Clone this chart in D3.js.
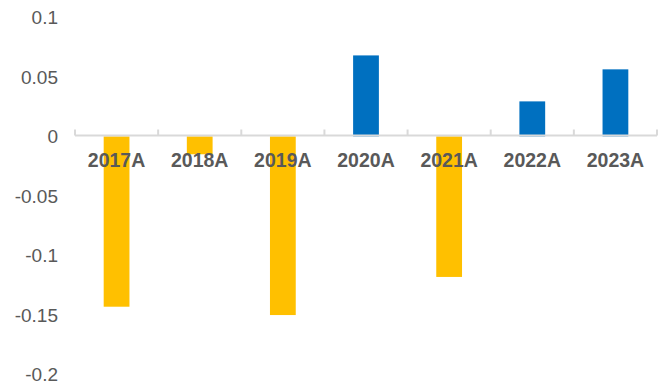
<!DOCTYPE html>
<html>
<head>
<meta charset="utf-8">
<script src="https://cdn.jsdelivr.net/npm/d3@7"></script>
<style>
  body { margin: 0; background: #fff; }
  text { font-family: "Liberation Sans", Arial, sans-serif; fill: #595959; }
</style>
</head>
<body>
<div id="chart"></div>
<script>
// categories and values
var years = ["2017A", "2018A", "2019A", "2020A", "2021A", "2022A", "2023A"];
var values = [-0.143, -0.015, -0.150, 0.068, -0.118, 0.0294, 0.0563];
var yTicks = [0.1, 0.05, 0, -0.05, -0.1, -0.15, -0.2];

var W = 666, H = 386;

var svg = d3.select("#chart").append("svg")
    .attr("width", W)
    .attr("height", H);

var x = d3.scaleBand().domain(years).range([75, 657]).paddingInner(0.69).paddingOuter(0.345);
var xb = d3.scaleBand().domain(years).range([75, 657]); // band edges for ticks
var y = d3.scaleLinear().domain([-0.2, 0.1]).range([374.6, 17.3]);

// y labels (no axis line)
svg.append("g")
  .selectAll("text")
  .data(yTicks)
  .enter().append("text")
    .attr("x", 58)
    .attr("y", function(d) { return y(d); })
    .attr("dy", "0.36em")
    .attr("text-anchor", "end")
    .style("font-size", "19px")
    .text(function(d) { return d; });

// bars
svg.append("g")
  .selectAll("rect")
  .data(values)
  .enter().append("rect")
    .attr("x", function(d, i) { return x(years[i]); })
    .attr("width", x.bandwidth())
    .attr("y", function(d) { return d >= 0 ? y(d) : y(0); })
    .attr("height", function(d) { return Math.abs(y(d) - y(0)); })
    .attr("fill", function(d) { return d >= 0 ? "#0070C0" : "#FFC000"; });

// zero axis line with tick marks pointing up
var zeroY = Math.round(y(0)) - 0.5;
svg.append("line")
    .attr("x1", 75).attr("x2", 657)
    .attr("y1", zeroY).attr("y2", zeroY)
    .attr("stroke", "#D9D9D9")
    .attr("stroke-width", 2);

var edges = years.map(function(c) { return xb(c); }).concat([657]);
svg.append("g")
  .selectAll("line")
  .data(edges)
  .enter().append("line")
    .attr("x1", function(d) { return d; })
    .attr("x2", function(d) { return d; })
    .attr("y1", zeroY)
    .attr("y2", zeroY - 6)
    .attr("stroke", "#D9D9D9")
    .attr("stroke-width", 2);

// category labels just under the zero line
svg.append("g")
  .selectAll("text")
  .data(years)
  .enter().append("text")
    .attr("x", function(d) { return xb(d) + xb.bandwidth() / 2; })
    .attr("y", 167)
    .attr("text-anchor", "middle")
    .style("font-size", "19.5px")
    .style("font-weight", "bold")
    .text(function(d) { return d; });
</script>
</body>
</html>
